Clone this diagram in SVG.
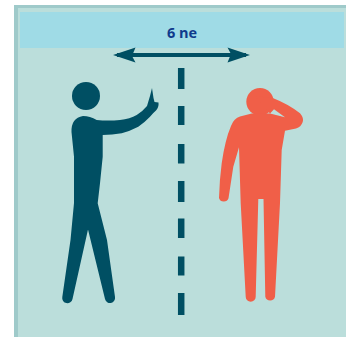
<svg xmlns="http://www.w3.org/2000/svg" width="346" height="337" viewBox="0 0 346 337">
<style>
.dark{fill:#004f63}
.red{fill:#f05f48}
.dash{stroke:#004f63;stroke-width:6.5;fill:none}
text{font-family:"Open Sans","Noto Sans","Liberation Sans",sans-serif;font-weight:700;font-size:14.5px;fill:#0f3a8c;text-anchor:middle}
</style>
<defs>
<marker id="head" viewBox="0 0 24 16" refX="20" refY="8" markerWidth="24" markerHeight="16" markerUnits="userSpaceOnUse" orient="auto-start-reverse">
<path class="dark" d="M24 8 L1.500 0.500 L5 7 L1.500 15.500 Z"/>
</marker>
</defs>
<g id="panel">
<rect x="14" y="5" width="332" height="332" fill="#9fcaca"/>
<rect x="18" y="8" width="328" height="329" fill="#bbdedb"/>
<rect x="20" y="12" width="324" height="36" fill="#9fdbe6"/>
</g>
<g id="label"><text x="182" y="38">6 ne</text></g>
<g id="connectors">
<line x1="117" y1="55" x2="246" y2="55" stroke="#004f63" stroke-width="4" marker-start="url(#head)" marker-end="url(#head)"/>
<path class="dash" d="M181.200 68V89M181.200 106V125M181.200 144V163.500M181.200 181V202M181.200 218.500V238M181.200 256.500V275.500M181.200 293V315"/>
</g>
<g id="person-left">
<circle class="dark" cx="86" cy="96" r="14"/>
<path class="dark" d="M83 116 Q90 116 96.700 120 Q108 121 120 120 Q130 119 136.700 115 Q143 111 147 106 L150 96 L152 88 L153.500 98 L154.500 102 L158.500 102.500 Q159 107 156 110.500 Q153 113 150 116.700 Q145 122 138.300 126.700 Q130 131 121.700 133.300 Q112 135 102.700 135 L102.700 156.700 L100 183.300 L97.700 203.300 L107 240 L115 297 A5.100 5.100 0 0 1 105 299 L88 229.500 L72.500 299 A5.100 5.100 0 0 1 62.300 297 L70.500 240 L74 203 L74 156.700 L71.500 132 Q71 118 83 116 Z"/>
</g>
<g id="person-right">
<circle class="red" cx="260" cy="101.700" r="13.700"/>
<path class="red" d="M255 96 L273.300 98.300 Q288 104 300 113.300 Q304 118 302.700 122 Q301 127 296 128.500 L285 130.700 L281.700 150 L280 203 L275 296.700 A5 5 0 0 1 265.300 296.700 L263.500 199 L258.300 199 L255.700 296.700 A5 5 0 0 1 245.700 296.700 L240.700 203.300 L239 147.300 L233.300 166.700 L228.500 198.300 A5 5 0 0 1 219 198 Q219.500 180 221.700 163.300 Q225 140 231 126 Q234 118 240 116.500 L251.700 113.500 L270 113.500 L285 117.300 L274 109.300 L270 113.500 Z"/>
</g>
</svg>
